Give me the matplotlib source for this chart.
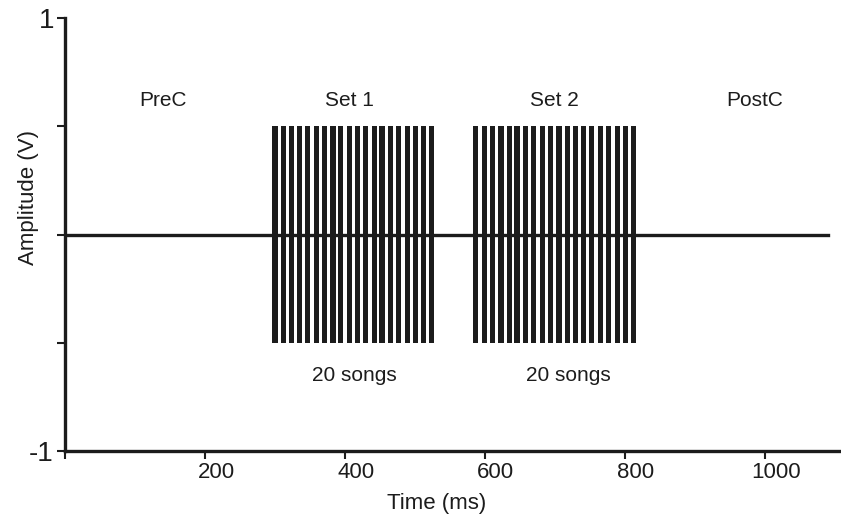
import matplotlib.pyplot as plt
from matplotlib.transforms import ScaledTranslation

# song onsets (ms) for the two playback sets
set1_onsets = [300, 312, 324, 335, 347, 359, 371, 383, 394, 406,
               418, 430, 442, 453, 465, 477, 489, 501, 512, 524]
set2_onsets = [587, 599, 611, 623, 635, 646, 658, 670, 682, 694,
               706, 718, 730, 741, 753, 765, 777, 789, 801, 813]
song_amp = 0.5
baseline_end = 1091

period_labels = ['PreC', 'Set 1', 'Set 2', 'PostC']
period_x = [140, 407, 700, 986]
count_labels = ['20 songs', '20 songs']
count_x = [414, 719]

plt.rcParams['font.family'] = ['Liberation Sans', 'DejaVu Sans']
ink = '#1c1c1c'

fig = plt.figure(figsize=(8.41, 5.19), dpi=100)
ax = fig.add_axes([0.0773, 0.131, 0.9227, 0.834])

ax.plot([0, baseline_end], [0, 0], color=ink, lw=2.4, zorder=2)
for onsets in (set1_onsets, set2_onsets):
    ax.bar(onsets, 2 * song_amp, bottom=-song_amp, width=7.4,
           color=ink, linewidth=0, zorder=3)

for lab, x in zip(period_labels, period_x):
    ax.text(x, 0.62, lab, ha='center', va='center', fontsize=15, color=ink)
for lab, x in zip(count_labels, count_x):
    ax.text(x, -0.65, lab, ha='center', va='center', fontsize=15, color=ink)

ax.set_xlim(0, 1109)
ax.set_ylim(-1, 1)
ax.set_xticks([0, 200, 400, 600, 800, 1000])
ax.set_xticklabels(['', '200', '400', '600', '800', '1000'], fontsize=16)
ax.set_yticks([-1, -0.5, 0, 0.5, 1])
ax.set_yticklabels(['-1', '', '', '', '1'], fontsize=20)
ax.tick_params(direction='out', length=6, width=1.5, color=ink, labelcolor=ink, pad=2)

# x tick labels sit a little right of their ticks
shift = ScaledTranslation(0.11, 0, fig.dpi_scale_trans)
for lab in ax.get_xticklabels():
    lab.set_transform(lab.get_transform() + shift)

for side in ('top', 'right'):
    ax.spines[side].set_visible(False)
for side in ('left', 'bottom'):
    ax.spines[side].set_linewidth(2.4)
    ax.spines[side].set_color(ink)

ax.set_xlabel('Time (ms)', fontsize=16, color=ink)
ax.xaxis.set_label_coords(0.479, -0.096)
ax.set_ylabel('Amplitude (V)', fontsize=16, color=ink)
ax.yaxis.set_label_coords(-0.034, 0.585)

fig.savefig('out.png', dpi=100)
